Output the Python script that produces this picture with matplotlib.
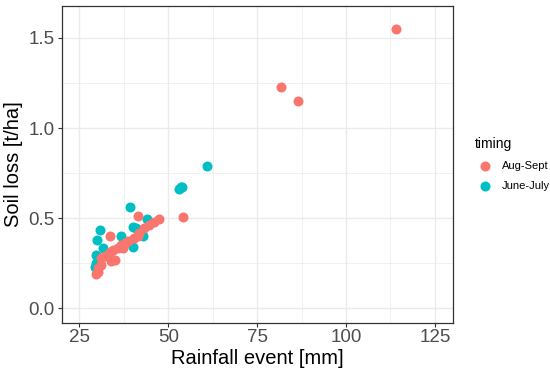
import matplotlib.pyplot as plt
import numpy as np

plt.rcParams['font.family'] = ['Liberation Sans', 'DejaVu Sans']

# rainfall event [mm] vs soil loss [t/ha]
aug_x = [114.1, 81.7, 86.6, 54.2, 41.6, 47.5, 46.1, 44.7, 43.3, 41.9, 41.4, 33.5,
         40.5, 38.6, 37.7, 36.7, 37.2, 35.8, 34.4, 33.5, 32.1, 31.1, 34.9, 33.9,
         31.1, 30.2, 29.7, 30.2]
aug_y = [1.551, 1.228, 1.148, 0.507, 0.514, 0.496, 0.478, 0.463, 0.444, 0.417, 0.398, 0.398,
         0.389, 0.370, 0.361, 0.352, 0.333, 0.333, 0.324, 0.314, 0.287, 0.278, 0.268, 0.259,
         0.240, 0.222, 0.189, 0.203]

jun_x = [60.8, 53.5, 53.1, 54.0, 39.1, 44.0, 30.7, 30.0, 36.7, 40.0, 42.8, 40.0,
         31.6, 29.7, 29.7, 29.5, 41.0]
jun_y = [0.787, 0.672, 0.661, 0.675, 0.559, 0.496, 0.435, 0.379, 0.398, 0.450, 0.398, 0.342,
         0.333, 0.296, 0.250, 0.230, 0.445]

fig = plt.figure(figsize=(5.5, 3.72), dpi=100)
ax = fig.add_axes([0.112, 0.133, 0.711, 0.852])

ax.scatter(jun_x, jun_y, s=52, color='#00BFC4', label='June-July', zorder=3, linewidths=0)
ax.scatter(aug_x, aug_y, s=52, color='#F8766D', label='Aug-Sept', zorder=3, linewidths=0)

ax.set_xlim(20, 130)
ax.set_ylim(-0.08, 1.68)
ax.set_xticks([25, 50, 75, 100, 125])
ax.set_yticks([0.0, 0.5, 1.0, 1.5])
ax.set_yticklabels(['0.0', '0.5', '1.0', '1.5'])
ax.set_xticks(np.arange(37.5, 130, 25), minor=True)
ax.set_yticks([0.25, 0.75, 1.25], minor=True)

ax.grid(which='major', color='#EBEBEB', linewidth=1.0, zorder=0)
ax.grid(which='minor', color='#EBEBEB', linewidth=0.5, zorder=0)
ax.set_axisbelow(True)
ax.tick_params(which='major', length=3, width=0.8, color='#333333',
               labelsize=13.5, labelcolor='#4D4D4D', pad=2)
ax.tick_params(which='minor', length=0)
for sp in ax.spines.values():
    sp.set_color('#333333')
    sp.set_linewidth(0.9)

ax.set_xlabel('Rainfall event [mm]', fontsize=14.5, labelpad=2)
ax.set_ylabel('Soil loss [t/ha]', fontsize=14.5, labelpad=4)

h, l = ax.get_legend_handles_labels()
leg = ax.legend(h[::-1], l[::-1], title='timing', loc='center left',
                bbox_to_anchor=(1.03, 0.5), frameon=False, fontsize=8,
                title_fontsize=10, handletextpad=0.5, labelspacing=0.9,
                markerscale=1.0)
leg._legend_box.align = 'left'

fig.savefig('out.png', dpi=100)
